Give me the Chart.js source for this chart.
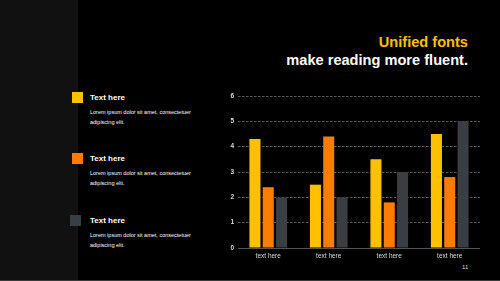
<!DOCTYPE html>
<html><head><meta charset="utf-8">
<script src="https://cdn.jsdelivr.net/npm/chart.js@4/dist/chart.umd.min.js"></script>
<style>
html,body{margin:0;padding:0;background:#000;}
#page{position:relative;width:500px;height:281px;background:#000;overflow:hidden;font-family:"Liberation Sans",Arial,sans-serif;}
#side{position:absolute;left:0;top:0;width:78px;height:280px;background:#111;}
#bline{position:absolute;left:0;top:280px;width:500px;height:1px;background:#3a3a3a;}
.t{position:absolute;white-space:nowrap;}
.title{right:32px;font-weight:bold;font-size:14.6px;text-align:right;}
.sq{position:absolute;width:11px;height:11px;}
.head{font-weight:bold;font-size:8px;color:#fff;}
.body{font-size:5.5px;color:#fff;}
#wrap{position:absolute;left:215px;top:88px;width:265px;height:174px;}
</style></head>
<body><div id="page">
<div id="side"></div>
<div id="bline"></div>
<div class="t title" style="top:34px;color:#FFC000;">Unified fonts</div>
<div class="t title" style="top:52px;color:#fff;">make reading more fluent.</div>
<div id="legend"></div>
<div class="t" style="left:462px;top:264px;font-size:6px;color:#ddd;">11</div>
<div id="wrap"><canvas id="c"></canvas></div>
</div>
<script>
const categories = ["text here","text here","text here","text here"];
const series1 = [4.3, 2.5, 3.5, 4.5];
const series2 = [2.4, 4.4, 1.8, 2.8];
const series3 = [2.0, 2.0, 3.0, 5.0];
const seriesColors = ["#FFC000", "#FF7C00", "#3A3D42"];
const legendTitles = ["Text here","Text here","Text here"];
const legendLine1 = "Lorem ipsum dolor sit amet, consectetuer";
const legendLine2 = "adipiscing elit.";
const yTicks = [0,1,2,3,4,5,6];

// legend blocks
const legendTops = [92, 153, 215];
const lg = document.getElementById('legend');
legendTitles.forEach((t,i)=>{
  const top = legendTops[i];
  const sq = document.createElement('div');
  sq.className='sq'; sq.style.left=(i==2?70:72)+'px'; sq.style.top=top+'px'; sq.style.background=seriesColors[i];
  lg.appendChild(sq);
  const h = document.createElement('div'); h.className='t head'; h.textContent=t;
  h.style.left='90px'; h.style.top=(top+1)+'px'; lg.appendChild(h);
  const b1 = document.createElement('div'); b1.className='t body'; b1.textContent=legendLine1;
  b1.style.left='90px'; b1.style.top=(top+17)+'px'; lg.appendChild(b1);
  const b2 = document.createElement('div'); b2.className='t body'; b2.textContent=legendLine2;
  b2.style.left='90px'; b2.style.top=(top+27)+'px'; lg.appendChild(b2);
});

const ds = [series1, series2, series3].map((d,i)=>({
  label: legendTitles[i], data: d, backgroundColor: seriesColors[i],
  borderWidth: 0, categoryPercentage: 0.66, barPercentage: 0.83
}));

new Chart(document.getElementById('c'), {
  type: 'bar',
  data: { labels: categories, datasets: ds },
  options: {
    responsive: true, maintainAspectRatio: false, animation: false,
    layout: { padding: { top: 8, right: 0, left: 0, bottom: 0 } },
    plugins: { legend: { display: false }, tooltip: { enabled: false } },
    scales: {
      x: {
        grid: { display: false, drawTicks: false },
        border: { display: true, color: '#555', width: 1 },
        ticks: { color: '#ddd', font: { family: 'Liberation Sans', size: 6.5 }, padding: 4 },
        afterFit: s => { s.height = 14; }
      },
      y: {
        min: 0, max: 6,
        afterBuildTicks: s => { s.ticks = yTicks.map(v=>({value:v})); },
        grid: { color: '#5a5a5a', lineWidth: 1, drawTicks: false },
        border: { display: false, dash: [2.5,1.5] },
        ticks: { color: '#ddd', font: { family: 'Liberation Sans', size: 6.5, weight: 'bold' }, padding: 4 },
        afterFit: s => { s.width = 23; }
      }
    }
  }
});
</script>
</body></html>
